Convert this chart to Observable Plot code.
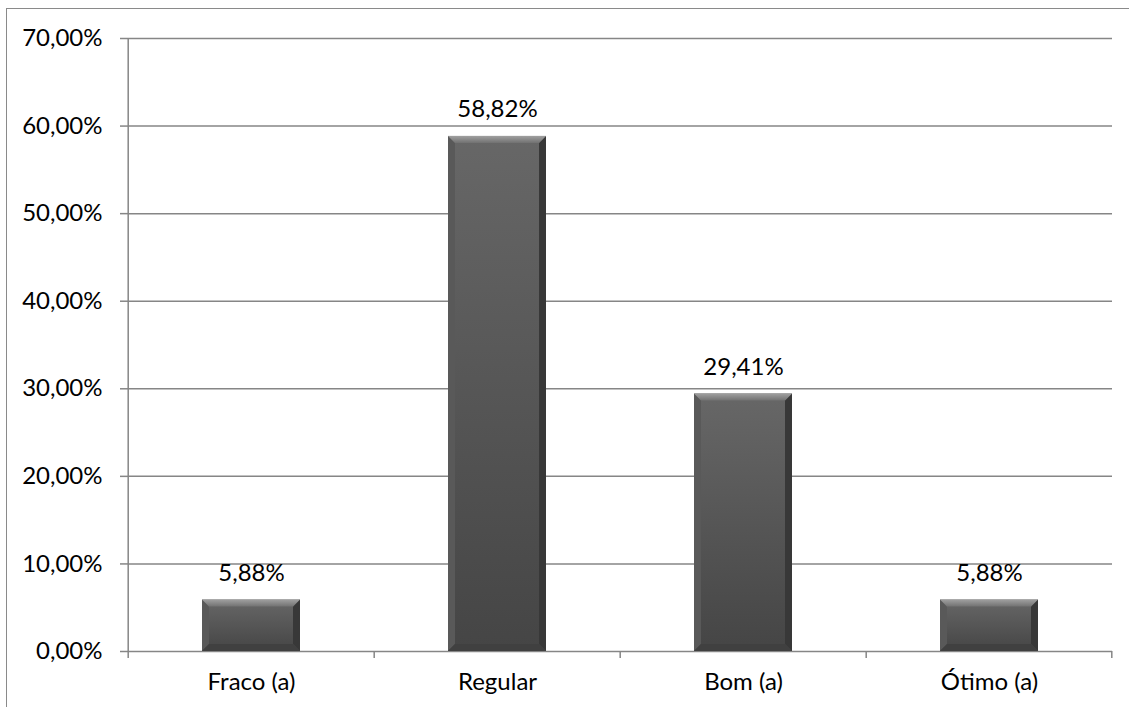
<!DOCTYPE html>
<html><head><meta charset="utf-8">
<script src="https://cdn.jsdelivr.net/npm/d3@7"></script>
<script src="https://cdn.jsdelivr.net/npm/@observablehq/plot@0.6"></script>
<style>
body{margin:0;background:#fff;}
#wrap{position:relative;width:1129px;height:707px;overflow:hidden;}
#border{position:absolute;left:6px;top:8px;width:2000px;height:2000px;border-left:1.5px solid #8a8a8a;border-top:1.5px solid #8a8a8a;pointer-events:none;}
</style>
</head><body><div id="wrap"><div id="chart"></div><div id="border"></div></div>
<script>
const categories = ["Fraco (a)", "Regular", "Bom (a)", "Ótimo (a)"];
const values = [0.0588, 0.5882, 0.2941, 0.0588];
const yTicks = [0, 0.1, 0.2, 0.3, 0.4, 0.5, 0.6, 0.7];

const data = categories.map((c, i) => ({category: c, value: values[i]}));
const fmt = v => (v * 100).toFixed(2).replace(".", ",") + "%";
const gridColor = "#868686";

function defs() {
  const g = d3.create("svg:defs");
  const f = g.append("linearGradient").attr("id", "barFill").attr("x1", 0).attr("x2", 0).attr("y1", 0).attr("y2", 1);
  f.append("stop").attr("offset", "0%").attr("stop-color", "#676767");
  f.append("stop").attr("offset", "100%").attr("stop-color", "#454545");
  const t = g.append("linearGradient").attr("id", "bevelTop").attr("x1", 0).attr("x2", 0).attr("y1", 0).attr("y2", 1);
  t.append("stop").attr("offset", "0%").attr("stop-color", "#a0a0a0");
  t.append("stop").attr("offset", "100%").attr("stop-color", "#727272");
  return g.node();
}

function bevels(index, scales) {
  const {x, y} = scales;
  const g = d3.create("svg:g");
  const b = 7;
  for (const d of data) {
    const x0 = x(d.category), x1 = x0 + x.bandwidth();
    const y0 = y(d.value), y1 = y(0);
    const polys = [
      {p: [[x0, y0], [x0 + b, y0 + b], [x0 + b, y1 - b], [x0, y1]], fill: "#595959"},
      {p: [[x1, y0], [x1, y1], [x1 - b, y1 - b], [x1 - b, y0 + b]], fill: "#383838"},
      {p: [[x0, y1], [x1, y1], [x1 - b, y1 - b], [x0 + b, y1 - b]], fill: "#404040"},
      {p: [[x0, y0], [x1, y0], [x1 - b, y0 + b], [x0 + b, y0 + b]], fill: "url(#bevelTop)"}
    ];
    for (const q of polys) {
      g.append("polygon").attr("points", q.p.map(pt => pt.join(",")).join(" ")).attr("fill", q.fill);
    }
  }
  return g.node();
}

function axisLines(index, scales) {
  const {x, y} = scales;
  const g = d3.create("svg:g").attr("stroke", gridColor).attr("stroke-width", 1.5);
  const step = x.step();
  const gap = step * 0.6 / 2;
  const [ya, yb] = [y(0), y(0.7)];
  const left = x(categories[0]) - gap;
  g.append("line").attr("x1", left).attr("x2", left).attr("y1", ya).attr("y2", yb);
  const bounds = categories.map(c => x(c) - gap).concat([x(categories[categories.length - 1]) + x.bandwidth() + gap]);
  for (const bx of bounds) {
    g.append("line").attr("x1", bx).attr("x2", bx).attr("y1", ya).attr("y2", ya + 7);
  }
  return g.node();
}

const chart = Plot.plot({
  width: 1129,
  height: 707,
  marginLeft: 128,
  marginRight: 17,
  marginTop: 38,
  marginBottom: 56,
  style: {fontFamily: "Lato", fontSize: "24px", color: "black", background: "white"},
  x: {type: "band", domain: categories, paddingInner: 0.6, paddingOuter: 0.3, label: null},
  y: {domain: [0, 0.7], label: null},
  marks: [
    defs,
    Plot.gridY(yTicks, {stroke: gridColor, strokeOpacity: 1, strokeWidth: 1.5}),
    Plot.axisY(yTicks, {tickSize: 8, tickPadding: 18, tickFormat: fmt, stroke: gridColor, strokeWidth: 1.5, fill: "black", fontSize: 24, label: null}),
    Plot.axisX({tickSize: 0, tickPadding: 21, fill: "black", fontSize: 24, label: null}),
    axisLines,
    Plot.barY(data, {x: "category", y: "value", fill: "url(#barFill)", style: "filter: drop-shadow(2px 2px 2px rgba(0,0,0,0.3))"}),
    bevels,
    Plot.text(data, {x: "category", y: "value", text: d => fmt(d.value), dy: -19, lineAnchor: "bottom", fill: "black", fontSize: 24})
  ]
});
document.getElementById("chart").appendChild(chart);
</script>
</body></html>
